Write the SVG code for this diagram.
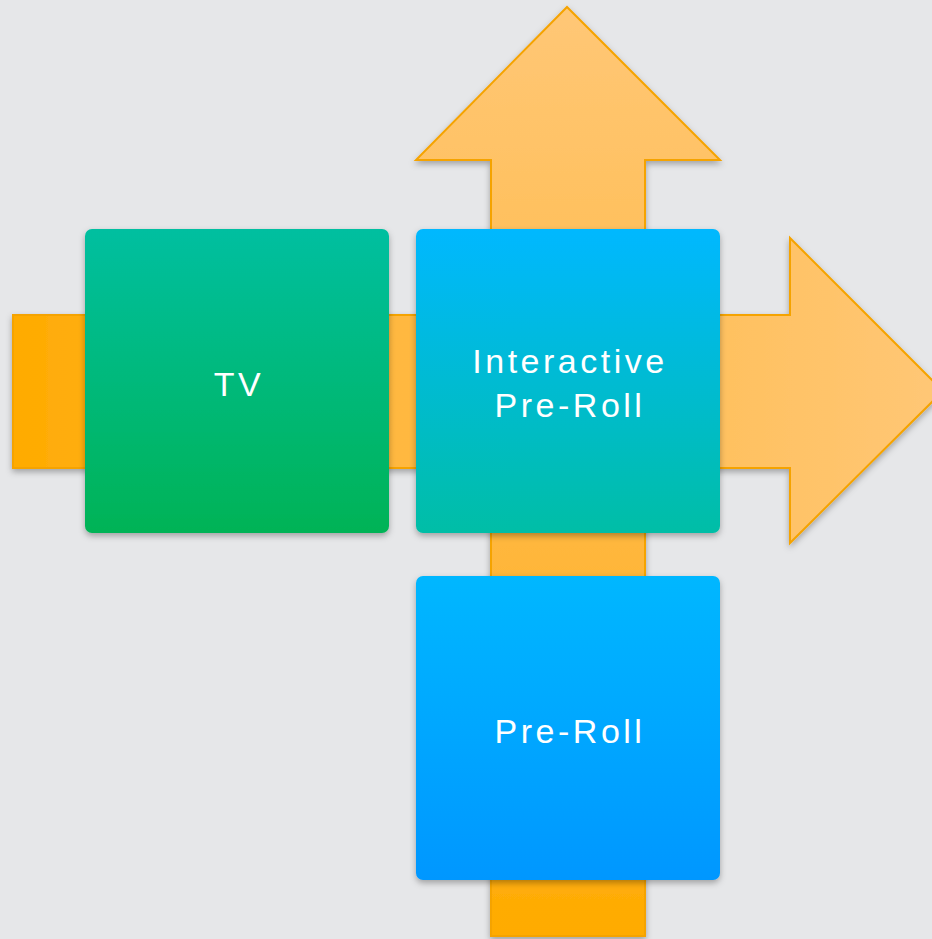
<svg xmlns="http://www.w3.org/2000/svg" width="932" height="939" viewBox="0 0 932 939">
<defs>
<style>
.node text{font-family:"Liberation Sans",Arial,sans-serif;font-size:34px;fill:#ffffff;text-anchor:middle;letter-spacing:3.5px}
.arrow{stroke:#f5a300;stroke-width:2;stroke-linejoin:miter}
</style>
<filter id="sh" x="-10%" y="-10%" width="120%" height="125%">
<feDropShadow dx="0" dy="3" stdDeviation="3" flood-color="#000" flood-opacity="0.3"/>
</filter>
<linearGradient id="gH" x1="0" y1="0" x2="1" y2="0">
<stop offset="0" stop-color="#ffab00"/>
<stop offset="0.3" stop-color="#ffb535"/>
<stop offset="1" stop-color="#ffc776"/>
</linearGradient>
<linearGradient id="gV" x1="0" y1="1" x2="0" y2="0">
<stop offset="0" stop-color="#ffab00"/>
<stop offset="0.35" stop-color="#ffb535"/>
<stop offset="1" stop-color="#ffc776"/>
</linearGradient>
<linearGradient id="gTV" x1="0" y1="0" x2="0" y2="1">
<stop offset="0" stop-color="#00bfa0"/>
<stop offset="1" stop-color="#00b356"/>
</linearGradient>
<linearGradient id="gIP" x1="0" y1="0" x2="0" y2="1">
<stop offset="0" stop-color="#00b8ff"/>
<stop offset="1" stop-color="#00bea6"/>
</linearGradient>
<linearGradient id="gPR" x1="0" y1="0" x2="0" y2="1">
<stop offset="0" stop-color="#00b7ff"/>
<stop offset="1" stop-color="#0097ff"/>
</linearGradient>
</defs>
<rect width="932" height="939" fill="#e6e7e9"/>
<g id="connectors">
<polygon class="arrow" fill="url(#gH)" filter="url(#sh)" points="13,315 790,315 790,238 943,391 790,543 790,468 13,468"/>
<polygon class="arrow" fill="url(#gV)" filter="url(#sh)" points="491,936 491,160 416,160 567,7 720,160 645,160 645,936"/>
</g>
<g id="tv" class="node">
<rect x="85" y="229" width="304" height="304" rx="7" fill="url(#gTV)" filter="url(#sh)"/>
<text x="239" y="396">TV</text>
</g>
<g id="interactive-pre-roll" class="node">
<rect x="416" y="229" width="304" height="304" rx="7" fill="url(#gIP)" filter="url(#sh)"/>
<text x="570" y="373">Interactive</text>
<text x="570" y="417">Pre-Roll</text>
</g>
<g id="pre-roll" class="node">
<rect x="416" y="576" width="304" height="304" rx="7" fill="url(#gPR)" filter="url(#sh)"/>
<text x="570" y="743">Pre-Roll</text>
</g>
</svg>
